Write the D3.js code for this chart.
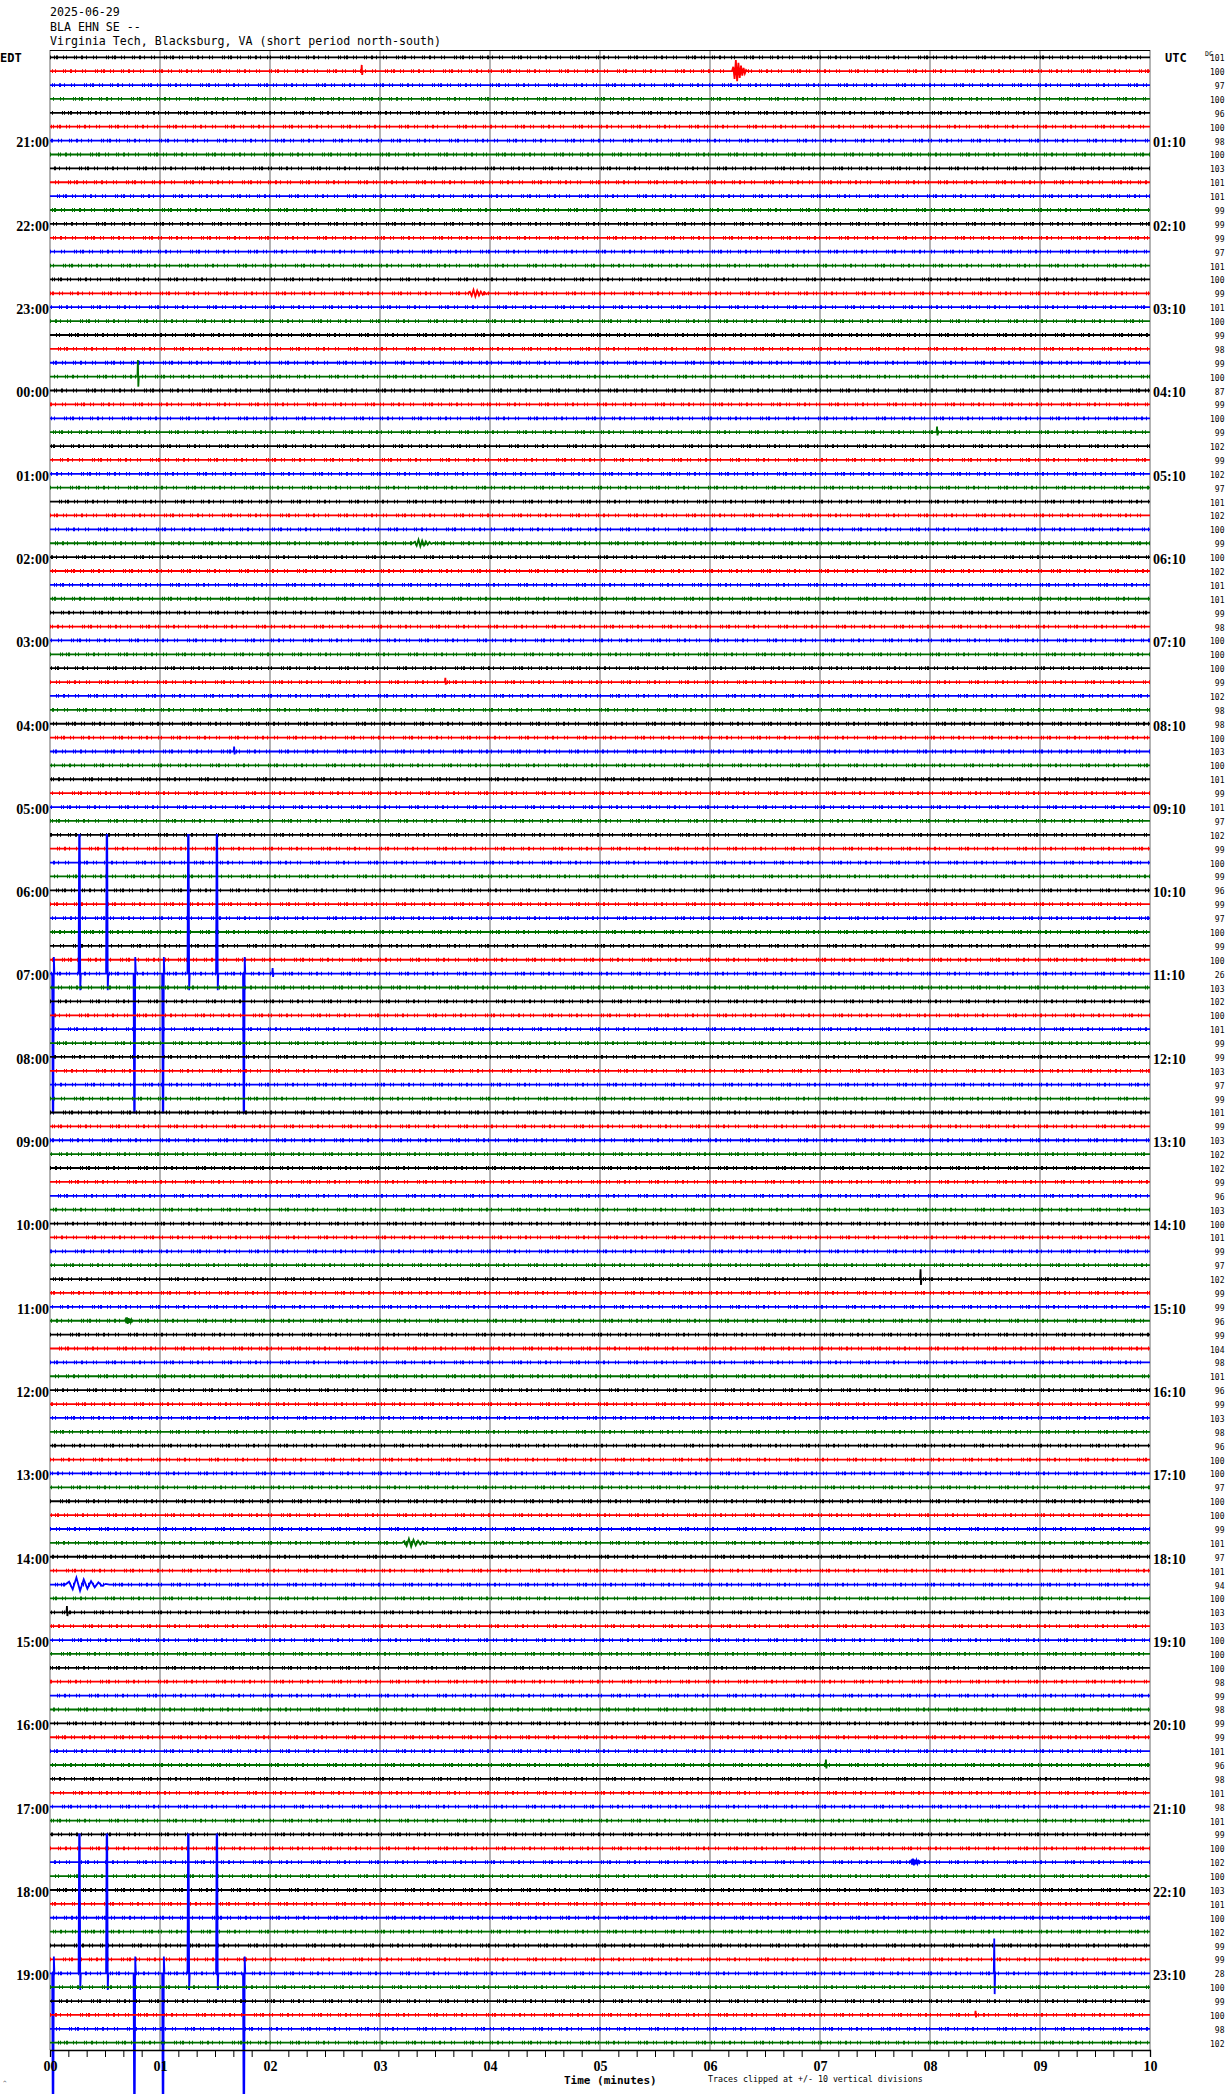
<!DOCTYPE html>
<html>
<head>
<meta charset="utf-8">
<script src="https://cdn.jsdelivr.net/npm/d3@7"></script>
<style>
  html, body { margin: 0; padding: 0; background: #fff; }
  svg { display: block; }
</style>
</head>
<body>
<svg id="chart" width="1230" height="2094"></svg>
<script>
// ---------------- DATA ----------------
const titleLines = ["2025-06-29", "BLA EHN SE --", "Virginia Tech, Blacksburg, VA (short period north-south)"];
const rowCount = 144;
const traceColors = ["#000000", "#ff0000", "#0000ff", "#007000"];
const edtLabels = ["21:00","22:00","23:00","00:00","01:00","02:00","03:00","04:00","05:00","06:00","07:00","08:00",
                   "09:00","10:00","11:00","12:00","13:00","14:00","15:00","16:00","17:00","18:00","19:00"];
const utcLabels = ["01:10","02:10","03:10","04:10","05:10","06:10","07:10","08:10","09:10","10:10","11:10","12:10",
                   "13:10","14:10","15:10","16:10","17:10","18:10","19:10","20:10","21:10","22:10","23:10"];
const labelRows = [6,12,18,24,30,36,42,48,54,60,66,72,78,84,90,96,102,108,114,120,126,132,138];
const dcValues = [
  101,100,97,100,96,100, 98,100,103,101,101,99, 99,99,97,101,100,99, 101,100,99,98,99,100,
  87,99,100,99,102,99, 102,97,101,102,100,99, 100,102,101,101,99,98, 100,100,100,99,102,98,
  98,100,103,100,101,99, 101,97,102,99,100,99, 96,99,97,100,99,100, 26,103,102,100,101,99,
  99,103,97,99,101,99, 103,102,102,99,96,103, 100,101,99,97,102,99, 99,96,99,104,98,101,
  96,99,103,98,96,100, 100,97,100,100,99,101, 97,101,94,100,103,103, 100,100,100,98,99,98,
  99,99,101,96,98,101, 98,101,99,100,102,100, 103,101,100,102,99,99, 28,100,99,100,98,102
];
const minuteLabels = ["00","01","02","03","04","05","06","07","08","09","10"];
const minorTicks = [];  // every 10 seconds, excluding whole minutes
for (let m = 0; m < 10; m++) for (let s = 1; s < 6; s++) minorTicks.push(m + s / 6);

// calibration pulses (rows, times in minutes, sign of main swing)
const calRows = [66, 138];
const calTimes = [0.02, 0.26, 0.51, 0.76, 1.02, 1.25, 1.51, 1.755];
const calSigns = [-1, 1, 1, -1, -1, 1, 1, -1];
const pulseShape = [0, 10, 10, -1.2, 0];          // in vertical divisions
const spikeShape = [0, 1, -0.6, 0];
const burstShape = [0, 0.4, -0.7, 1, -0.9, 0.75, -0.6, 0.5, -0.4, 0.3, -0.2, 0.1, 0];

// visible events: row, time (min), type, amplitude (divisions), duration (min)
const events = [
  {row: 1,   t: 2.83, type: "spike", amp: 0.45},
  {row: 1,   t: 6.20, type: "burst", amp: 0.8,  dur: 0.14},
  {row: 17,  t: 3.80, type: "burst", amp: 0.25, dur: 0.2},
  {row: 23,  t: 0.795,type: "spike", amp: 1.2},
  {row: 27,  t: 8.06, type: "spike", amp: 0.4},
  {row: 35,  t: 3.30, type: "burst", amp: 0.25, dur: 0.2},
  {row: 45,  t: 3.59, type: "spike", amp: 0.3},
  {row: 50,  t: 1.67, type: "spike", amp: 0.35},
  {row: 66,  t: 2.02, type: "spike", amp: 0.4},
  {row: 88,  t: 7.91, type: "spike", amp: 0.7},
  {row: 91,  t: 0.68, type: "burst", amp: 0.25, dur: 0.08},
  {row: 107, t: 3.20, type: "burst", amp: 0.3,  dur: 0.25},
  {row: 110, t: 0.14, type: "burst", amp: 0.5,  dur: 0.4},
  {row: 112, t: 0.15, type: "spike", amp: 0.45},
  {row: 123, t: 7.05, type: "spike", amp: 0.4},
  {row: 130, t: 7.82, type: "burst", amp: 0.25, dur: 0.1},
  {row: 138, t: 8.58, type: "spike", amp: 2.5},
  {row: 141, t: 8.41, type: "spike", amp: 0.3}
];

// ---------------- DRAW ----------------
const svg = d3.select("#chart");
const x = d3.scaleLinear().domain([0, 10]).range([50, 1150]);
const rowY = d3.scaleLinear().domain([0, rowCount - 1]).range([57.3, 2042.7]);
const divPx = rowY(1) - rowY(0);
const clip = v => Math.max(-10, Math.min(10, v));

const mono = "'DejaVu Sans Mono', 'Liberation Mono', monospace";
const serif = "'Liberation Serif', 'DejaVu Serif', serif";

// title
svg.append("g").selectAll("text").data(titleLines).join("text")
  .attr("x", 50).attr("y", (d, i) => [16, 30.5, 45][i])
  .attr("font-family", mono).attr("font-size", "11.6px").attr("fill", "#000")
  .text(d => d);

// grid lines
svg.append("g").selectAll("line").data(d3.range(0, 11)).join("line")
  .attr("x1", d => x(d)).attr("x2", d => x(d))
  .attr("y1", 50).attr("y2", 2050)
  .attr("stroke", "#808080").attr("stroke-width", 1.2);

// top border
svg.append("line").attr("x1", 50).attr("x2", 1150).attr("y1", 50.5).attr("y2", 50.5)
  .attr("stroke", "#000").attr("stroke-width", 1);

// build per-row point lists
const rowPoints = d3.range(rowCount).map(() => [[0, 0], [10, 0]]);
function addShape(row, t0, dur, shape, amp) {
  shape.forEach((v, i) => rowPoints[row].push([t0 + dur * i / (shape.length - 1), v * amp]));
}
calRows.forEach(r => calTimes.forEach((t, i) => addShape(r, t, 0.02, pulseShape, calSigns[i])));
events.forEach(e => {
  if (e.type === "spike") addShape(e.row, e.t, 0.012, spikeShape, e.amp);
  else addShape(e.row, e.t, e.dur, burstShape, e.amp);
});
rowPoints.forEach(p => p.sort((a, b) => a[0] - b[0]));

const traces = svg.append("g");
const line = d3.line().x(d => x(d[0]));
// noise texture band (style only)
traces.selectAll("path.tex").data(d3.range(rowCount)).join("path")
  .attr("class", "tex")
  .attr("d", r => `M${x(0)},${rowY(r)}H${x(10)}`)
  .attr("stroke", r => traceColors[r % 4])
  .attr("stroke-width", 3.8)
  .attr("stroke-dasharray", "1 3 1 1 2 5 1 2 1 7 1 1 1 4 2 3 1 6 1 2 1 9 1 1")
  .attr("stroke-dashoffset", r => (r * 11) % 61)
  .attr("fill", "none");
traces.selectAll("path.tr").data(d3.range(rowCount)).join("path")
  .attr("class", "tr")
  .attr("d", r => line.y(d => rowY(r) - clip(d[1]) * divPx)(rowPoints[r]))
  .attr("stroke", r => traceColors[r % 4])
  .attr("stroke-width", 1.8)
  .attr("fill", "none");

// bottom axis
const axMinor = d3.axisBottom(x).tickValues(minorTicks).tickSize(7).tickFormat("");
const gAx = svg.append("g").attr("transform", "translate(0,2050)").call(axMinor);
gAx.select(".domain").attr("stroke", "#000").attr("stroke-width", 1.3);
gAx.selectAll(".tick line").attr("stroke", "#000").attr("stroke-width", 1);
const axLab = d3.axisBottom(x).tickValues(d3.range(0, 11)).tickSize(0).tickFormat(d => minuteLabels[d]);
const gLab = svg.append("g").attr("transform", "translate(0,2050)").call(axLab);
gLab.select(".domain").remove();
gLab.selectAll(".tick text").attr("y", 20.5).attr("dy", 0)
  .attr("font-family", serif).attr("font-weight", "bold").attr("font-size", "14px").attr("fill", "#000");

svg.append("text").attr("x", 564).attr("y", 2084)
  .attr("font-family", mono).attr("font-weight", "bold").attr("font-size", "11px")
  .text("Time (minutes)");
svg.append("text").attr("x", 708).attr("y", 2082)
  .attr("font-family", mono).attr("font-size", "8.3px")
  .text("Traces clipped at +/- 10 vertical divisions");
svg.append("text").attr("x", 3).attr("y", 2085)
  .attr("font-family", mono).attr("font-size", "6px").text("^");

// left EDT labels
const yLab = d3.scaleLinear().domain(rowY.domain()).range(rowY.range());
const axL = d3.axisLeft(yLab).tickValues(labelRows).tickSize(0)
  .tickFormat(d => edtLabels[labelRows.indexOf(d)]);
const gL = svg.append("g").attr("transform", "translate(49,0)").call(axL);
gL.select(".domain").remove();
gL.selectAll(".tick text").attr("x", 0).attr("dy", "0.38em").attr("y", 1)
  .attr("font-family", serif).attr("font-weight", "bold").attr("font-size", "14px").attr("fill", "#000");

const axR = d3.axisRight(yLab).tickValues(labelRows).tickSize(0)
  .tickFormat(d => utcLabels[labelRows.indexOf(d)]);
const gR = svg.append("g").attr("transform", "translate(1153,0)").call(axR);
gR.select(".domain").remove();
gR.selectAll(".tick text").attr("x", 0).attr("dy", "0.38em").attr("y", 1)
  .attr("font-family", serif).attr("font-weight", "bold").attr("font-size", "14px").attr("fill", "#000");

svg.append("text").attr("x", 0).attr("y", 61.5)
  .attr("font-family", mono).attr("font-weight", "bold").attr("font-size", "12px").text("EDT");
svg.append("text").attr("x", 1165).attr("y", 61.5)
  .attr("font-family", mono).attr("font-weight", "bold").attr("font-size", "12px").text("UTC");

// DC values
svg.append("g").selectAll("text").data(dcValues).join("text")
  .attr("x", 1224.5).attr("y", (d, i) => rowY(i) + 4)
  .attr("text-anchor", "end")
  .attr("font-family", mono).attr("font-size", "8px").attr("fill", "#000")
  .text(d => d);
svg.append("text").attr("x", 1205).attr("y", 55.5)
  .attr("font-family", mono).attr("font-size", "6.5px").text("DC");
</script>
</body>
</html>
